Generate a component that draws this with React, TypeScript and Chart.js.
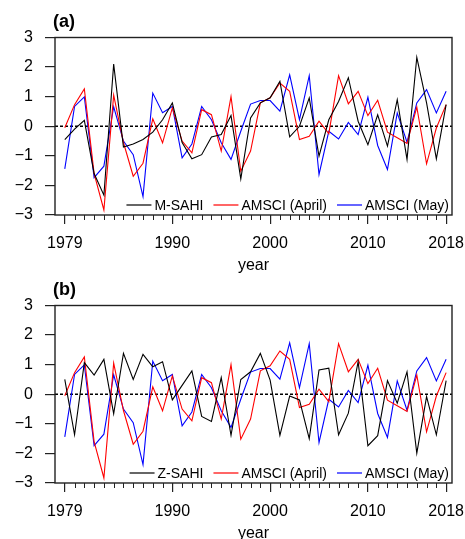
import React, { useEffect, useRef } from "react";
import { Chart, registerables } from "chart.js";

Chart.register(...registerables);

const years = [
  1979, 1980, 1981, 1982, 1983, 1984, 1985, 1986, 1987, 1988,
  1989, 1990, 1991, 1992, 1993, 1994, 1995, 1996, 1997, 1998,
  1999, 2000, 2001, 2002, 2003, 2004, 2005, 2006, 2007, 2008,
  2009, 2010, 2011, 2012, 2013, 2014, 2015, 2016, 2017, 2018,
];

const xTickLabels = [1979, 1990, 2000, 2010, 2018];

const amsciApril = [
  -0.05, 0.73, 1.26, -1.6, -2.83, 1.05, -0.55, -1.69, -1.25, 0.25,
  -0.56, 0.62, -0.5, -0.9, 0.56, 0.39, -0.84, 1.0, -1.52, -0.84,
  0.79, 0.96, 1.46, 1.18, -0.45, -0.34, 0.17, -0.25, 1.71, 0.76,
  1.18, 0.36, 0.88, -0.2, -0.39, -0.58, 0.65, -1.27, -0.06, 0.73,
];

const amsciMay = [
  -1.44, 0.67, 0.99, -1.74, -1.35, 0.66, -0.5, -0.96, -2.38, 1.12,
  0.46, 0.67, -1.07, -0.6, 0.67, 0.22, -0.56, -1.12, -0.17, 0.75,
  0.87, 0.87, 0.51, 1.74, 0.22, 1.71, -1.63, -0.17, -0.43, 0.13,
  -0.28, 0.98, -0.65, -1.46, 0.45, -0.54, 0.79, 1.24, 0.45, 1.18,
];

const mSahi = [
  -0.45, -0.1, 0.2, -1.6, -2.33, 2.1, -0.7, -0.6, -0.45, -0.2,
  0.22, 0.79, -0.55, -1.1, -0.96, -0.36, -0.28, 0.36, -1.78, 0.28,
  0.79, 0.96, 1.52, -0.36, 0.0, 0.96, -1.01, 0.22, 0.84, 1.64,
  0.17, -0.62, 0.39, -0.67, 0.9, -1.12, 2.33, 0.79, -1.1, 0.73,
];

const zSahi = [
  0.5, -1.37, 1.07, 0.65, 1.18, -0.66, 1.38, 0.5, 1.35, 0.93,
  1.1, -0.19, 0.3, 0.79, -0.75, -0.92, 0.56, -1.39, 0.5, 0.76,
  1.38, 0.48, -1.39, -0.06, -0.19, -1.5, 0.82, 0.88, -1.37, -0.64,
  1.1, -1.74, -1.4, 0.46, -0.3, 0.76, -1.99, -0.08, -1.37, 0.46,
];

const FONT = '"Liberation Sans", Arial, Helvetica, sans-serif';
const FRAME = "#222";
const W = 465;
const H = 280;

type PanelProps = { tag: string; blackLabel: string; blackData: number[]; top: number };

function Panel({ tag, blackLabel, blackData, top }: PanelProps) {
  const ref = useRef<HTMLCanvasElement | null>(null);

  useEffect(() => {
    const canvas = ref.current;
    if (!canvas) return;
    const toPts = (arr: number[]) => arr.map((v, i) => ({ x: years[i], y: v }));

    const panelPlugin = {
      id: "panelDeco",
      beforeDatasetsDraw(chart: any) {
        const { ctx, chartArea, scales } = chart;
        const y0 = scales.y.getPixelForValue(0);
        ctx.save();
        ctx.strokeStyle = "#000";
        ctx.lineWidth = 1.5;
        ctx.setLineDash([3, 2]);
        ctx.beginPath();
        ctx.moveTo(chartArea.left, y0);
        ctx.lineTo(chartArea.right, y0);
        ctx.stroke();
        ctx.restore();
      },
      afterDraw(chart: any) {
        const { ctx, chartArea, scales } = chart;
        ctx.save();
        // frame
        ctx.strokeStyle = FRAME;
        ctx.lineWidth = 1.4;
        ctx.strokeRect(chartArea.left, chartArea.top, chartArea.right - chartArea.left, chartArea.bottom - chartArea.top);
        // minor ticks
        ctx.lineWidth = 1;
        ctx.beginPath();
        years.forEach((yr) => {
          if (xTickLabels.includes(yr)) return;
          const px = Math.round(scales.x.getPixelForValue(yr)) + 0.5;
          ctx.moveTo(px, chartArea.bottom);
          ctx.lineTo(px, chartArea.bottom + 5);
        });
        ctx.stroke();
        // panel tag
        ctx.fillStyle = "#000";
        ctx.font = `bold 18px ${FONT}`;
        ctx.textAlign = "left";
        ctx.textBaseline = "alphabetic";
        ctx.fillText(tag, chartArea.left - 2, chartArea.top - 11);
        // legend
        ctx.font = `14px ${FONT}`;
        ctx.textBaseline = "middle";
        const lineLen = 25;
        const gapLT = 3;
        const gapItem = 10;
        const ds = chart.data.datasets;
        const widths = ds.map((d: any) => lineLen + gapLT + ctx.measureText(d.label).width);
        const total = widths.reduce((a: number, b: number) => a + b, 0) + gapItem * (ds.length - 1);
        let x = chartArea.right - 3 - total;
        const ly = chartArea.bottom - 10;
        ds.forEach((d: any, i: number) => {
          ctx.strokeStyle = d.borderColor;
          ctx.lineWidth = 1.2;
          ctx.beginPath();
          ctx.moveTo(x, ly);
          ctx.lineTo(x + lineLen, ly);
          ctx.stroke();
          ctx.fillStyle = "#000";
          ctx.fillText(d.label, x + lineLen + gapLT, ly + 1);
          x += widths[i] + gapItem;
        });
        ctx.restore();
      },
    };

    const chart = new Chart(canvas, {
      type: "line",
      data: {
        datasets: [
          { label: blackLabel, data: toPts(blackData), borderColor: "#000000", borderWidth: 1.1, pointRadius: 0, tension: 0, fill: false },
          { label: "AMSCI (April)", data: toPts(amsciApril), borderColor: "#ff0000", borderWidth: 1.1, pointRadius: 0, tension: 0, fill: false },
          { label: "AMSCI (May)", data: toPts(amsciMay), borderColor: "#0000ff", borderWidth: 1.1, pointRadius: 0, tension: 0, fill: false },
        ],
      },
      options: {
        responsive: false,
        animation: false,
        layout: { padding: { left: 0, right: 13, top: 37.5, bottom: 0 } },
        plugins: { legend: { display: false }, tooltip: { enabled: false }, title: { display: false } },
        scales: {
          x: {
            type: "linear",
            min: 1978,
            max: 2018.6,
            afterBuildTicks: (s: any) => {
              s.ticks = xTickLabels.map((v) => ({ value: v }));
            },
            afterFit: (s: any) => {
              s.height = 65;
              s.paddingLeft = 0;
              s.paddingRight = 0;
            },
            grid: { drawOnChartArea: false, drawTicks: true, tickLength: 9, color: FRAME, lineWidth: 1.2 },
            border: { display: false },
            ticks: {
              padding: 10,
              color: "#000",
              font: { family: FONT, size: 16 },
              maxRotation: 0,
              autoSkip: false,
              callback: (v: any) => String(v),
            },
            title: { display: true, text: "year", color: "#000", font: { family: FONT, size: 16 }, padding: { top: 0, bottom: 5 } },
          },
          y: {
            min: -3,
            max: 3,
            afterFit: (s: any) => {
              s.width = 55;
              s.paddingTop = 0;
              s.paddingBottom = 0;
            },
            grid: { drawOnChartArea: false, drawTicks: true, tickLength: 10, color: FRAME, lineWidth: 1.2 },
            border: { display: false },
            ticks: {
              stepSize: 1,
              padding: 12,
              color: "#000",
              font: { family: FONT, size: 16 },
              callback: (v: any) => (Number(v) < 0 ? "\u2212" + Math.abs(Number(v)) : String(v)),
            },
          },
        },
      } as any,
      plugins: [panelPlugin],
    });
    return () => chart.destroy();
  }, [tag, blackLabel, blackData]);

  return (
    <canvas
      ref={ref}
      width={W}
      height={H}
      style={{ position: "absolute", left: 0, top, width: W, height: H }}
    />
  );
}

export default function App() {
  useEffect(() => {
    document.body.style.margin = "0";
    document.body.style.overflow = "hidden";
  }, []);
  return (
    <div style={{ position: "relative", width: W, height: 539, overflow: "hidden", background: "#fff" }}>
      <Panel tag="(a)" blackLabel="M-SAHI" blackData={mSahi} top={0} />
      <Panel tag="(b)" blackLabel="Z-SAHI" blackData={zSahi} top={268} />
    </div>
  );
}
